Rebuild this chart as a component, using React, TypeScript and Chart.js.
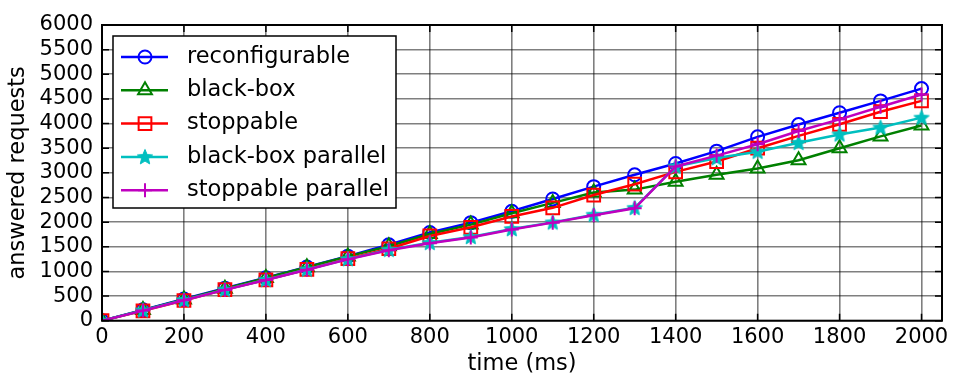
import React, { useEffect, useRef } from "react";
import { Chart, registerables } from "chart.js";

Chart.register(...registerables);

const times = [0, 100, 200, 300, 400, 500, 600, 700, 800, 900, 1000, 1100, 1200, 1300, 1400, 1500, 1600, 1700, 1800, 1900, 2000];
const reconfigurable = [0, 220, 440, 660, 870, 1090, 1310, 1540, 1790, 1990, 2220, 2470, 2720, 2960, 3190, 3440, 3730, 3980, 4220, 4460, 4710];
const blackBox = [0, 215, 430, 650, 865, 1085, 1305, 1510, 1760, 1950, 2180, 2390, 2600, 2660, 2820, 2960, 3090, 3255, 3500, 3740, 3960];
const stoppable = [0, 200, 410, 630, 830, 1040, 1260, 1460, 1720, 1895, 2115, 2290, 2550, 2770, 3020, 3230, 3500, 3750, 3985, 4240, 4460];
const blackBoxParallel = [0, 210, 420, 630, 830, 1040, 1250, 1440, 1580, 1700, 1860, 1995, 2150, 2290, 3130, 3300, 3430, 3610, 3780, 3920, 4120];
const stoppableParallel = [0, 205, 415, 625, 825, 1035, 1245, 1430, 1570, 1690, 1850, 1990, 2140, 2280, 3130, 3350, 3580, 3850, 4085, 4340, 4590];

const seriesLabels = ["reconfigurable", "black-box", "stoppable", "black-box parallel", "stoppable parallel"];
const seriesColors = ["#0000ff", "#008000", "#ff0000", "#00bfbf", "#bf00bf"];
const seriesStyles = ["circle", "triangle", "rect", "star", "cross"];
const seriesRadii = [6.5, 8, 9, 7, 7];

const xTicks = [0, 200, 400, 600, 800, 1000, 1200, 1400, 1600, 1800, 2000];
const yTicks = [0, 500, 1000, 1500, 2000, 2500, 3000, 3500, 4000, 4500, 5000, 5500, 6000];

const FONT = "'DejaVu Sans', 'Liberation Sans', sans-serif";

function makeStar(color: string): HTMLCanvasElement {
  const c = document.createElement("canvas");
  c.width = 18;
  c.height = 18;
  const ctx = c.getContext("2d")!;
  ctx.beginPath();
  for (let i = 0; i < 10; i++) {
    const r = i % 2 === 0 ? 8 : 3.6;
    const a = -Math.PI / 2 + (i * Math.PI) / 5;
    const px = 9 + r * Math.cos(a);
    const py = 9.5 + r * Math.sin(a);
    if (i === 0) ctx.moveTo(px, py);
    else ctx.lineTo(px, py);
  }
  ctx.closePath();
  ctx.fillStyle = color;
  ctx.fill();
  ctx.strokeStyle = color;
  ctx.lineWidth = 1;
  ctx.stroke();
  return c;
}

function drawMarker(ctx: CanvasRenderingContext2D, style: any, x: number, y: number, r: number, color: string) {
  ctx.save();
  ctx.strokeStyle = color;
  ctx.lineWidth = 2;
  ctx.beginPath();
  if (style instanceof HTMLCanvasElement) {
    ctx.drawImage(style, x - style.width / 2, y - style.height / 2);
    ctx.restore();
    return;
  }
  if (style === "circle") {
    ctx.arc(x, y, r, 0, Math.PI * 2);
  } else if (style === "triangle") {
    for (let i = 0; i < 3; i++) {
      const a = -Math.PI / 2 + (i * 2 * Math.PI) / 3;
      const px = x + r * Math.cos(a);
      const py = y + r * Math.sin(a);
      if (i === 0) ctx.moveTo(px, py);
      else ctx.lineTo(px, py);
    }
    ctx.closePath();
  } else if (style === "rect") {
    const s = r * Math.SQRT1_2;
    ctx.rect(x - s, y - s, 2 * s, 2 * s);
  } else if (style === "cross") {
    ctx.moveTo(x - r, y);
    ctx.lineTo(x + r, y);
    ctx.moveTo(x, y - r);
    ctx.lineTo(x, y + r);
  }
  ctx.stroke();
  ctx.restore();
}

const framePlugin = {
  id: "frameTicks",
  afterDatasetsDraw(chart: any) {
    const { ctx, chartArea } = chart;
    const { left, right, top, bottom } = chartArea;
    const xs = chart.scales.x;
    const ys = chart.scales.y;
    ctx.save();
    ctx.strokeStyle = "#000";
    ctx.lineWidth = 1.5;
    const len = 7;
    ctx.beginPath();
    xTicks.forEach((v) => {
      const px = xs.getPixelForValue(v);
      ctx.moveTo(px, bottom);
      ctx.lineTo(px, bottom - len);
      ctx.moveTo(px, top);
      ctx.lineTo(px, top + len);
    });
    yTicks.forEach((v) => {
      const py = ys.getPixelForValue(v);
      ctx.moveTo(left, py);
      ctx.lineTo(left + len, py);
      ctx.moveTo(right, py);
      ctx.lineTo(right - len, py);
    });
    ctx.stroke();
    ctx.lineWidth = 2;
    ctx.strokeRect(left, top, right - left, bottom - top);
    ctx.restore();
  },
};

const legendPlugin = {
  id: "mplLegend",
  afterDraw(chart: any) {
    const { ctx, chartArea } = chart;
    const bx = chartArea.left + 11;
    const by = chartArea.top + 11;
    const bw = 283;
    const bh = 172;
    ctx.save();
    ctx.fillStyle = "#fff";
    ctx.fillRect(bx, by, bw, bh);
    ctx.strokeStyle = "#000";
    ctx.lineWidth = 1.5;
    ctx.strokeRect(bx, by, bw, bh);
    ctx.font = `22.5px ${FONT}`;
    ctx.textBaseline = "middle";
    chart.data.datasets.forEach((ds: any, i: number) => {
      const y = by + 21 + i * 33.3;
      ctx.strokeStyle = ds.borderColor;
      ctx.lineWidth = 2.5;
      ctx.beginPath();
      ctx.moveTo(bx + 8, y);
      ctx.lineTo(bx + 55, y);
      ctx.stroke();
      drawMarker(ctx, ds.pointStyle, bx + 32, y, ds.pointRadius, ds.borderColor);
      ctx.fillStyle = "#000";
      ctx.fillText(ds.label, bx + 74, y);
    });
    ctx.restore();
  },
};

export default function App() {
  const ref = useRef<HTMLCanvasElement | null>(null);
  useEffect(() => {
    if (!ref.current) return;
    const seriesValues = [reconfigurable, blackBox, stoppable, blackBoxParallel, stoppableParallel];
    const datasets = seriesValues.map((vals, i) => {
      const style: any = seriesStyles[i] === "star" ? makeStar(seriesColors[i]) : seriesStyles[i];
      return {
        label: seriesLabels[i],
        data: times.map((t, j) => ({ x: t, y: vals[j] })),
        borderColor: seriesColors[i],
        backgroundColor: seriesColors[i],
        borderWidth: 2.5,
        pointStyle: style,
        pointRadius: seriesRadii[i],
        pointBorderWidth: 2,
        pointBorderColor: seriesColors[i],
        pointBackgroundColor: "rgba(0,0,0,0)",
        tension: 0,
        order: 5 - i,
      };
    });
    const chart = new Chart(ref.current, {
      type: "line",
      data: { datasets },
      options: {
        animation: false,
        responsive: true,
        maintainAspectRatio: false,
        layout: { padding: { top: 25, right: 12, left: 0, bottom: 0 } },
        font: { family: FONT },
        plugins: { legend: { display: false }, tooltip: { enabled: false } },
        scales: {
          x: {
            type: "linear",
            min: 0,
            max: 2050,
            afterFit: (s: any) => {
              s.height = 57.3;
            },
            afterBuildTicks: (s: any) => {
              s.ticks = xTicks.map((v) => ({ value: v }));
            },
            ticks: {
              color: "#000",
              font: { family: FONT, size: 21 },
              padding: 4,
              maxRotation: 0,
              autoSkip: false,
              callback: (v: any) => String(v),
            },
            grid: { color: "rgba(0,0,0,0.5)", lineWidth: 1.6, drawTicks: false },
            border: { display: false },
            title: {
              display: true,
              text: "time (ms)",
              color: "#000",
              font: { family: FONT, size: 22.5 },
              padding: { top: 0, bottom: 0 },
            },
          },
          y: {
            type: "linear",
            min: 0,
            max: 6000,
            afterFit: (s: any) => {
              s.width = 102;
            },
            afterBuildTicks: (s: any) => {
              s.ticks = yTicks.map((v) => ({ value: v }));
            },
            ticks: {
              color: "#000",
              font: { family: FONT, size: 21 },
              padding: 9,
              autoSkip: false,
              callback: (v: any) => String(v),
            },
            grid: { color: "rgba(0,0,0,0.5)", lineWidth: 1.6, drawTicks: false },
            border: { display: false },
            title: {
              display: true,
              text: "answered requests",
              color: "#000",
              font: { family: FONT, size: 22.5 },
              padding: { top: 5, bottom: 0 },
            },
          },
        },
      },
      plugins: [framePlugin, legendPlugin],
    });
    return () => chart.destroy();
  }, []);
  return (
    <div style={{ position: "fixed", left: 0, top: 0, width: 954, height: 378, background: "#fff" }}>
      <canvas ref={ref} />
    </div>
  );
}
